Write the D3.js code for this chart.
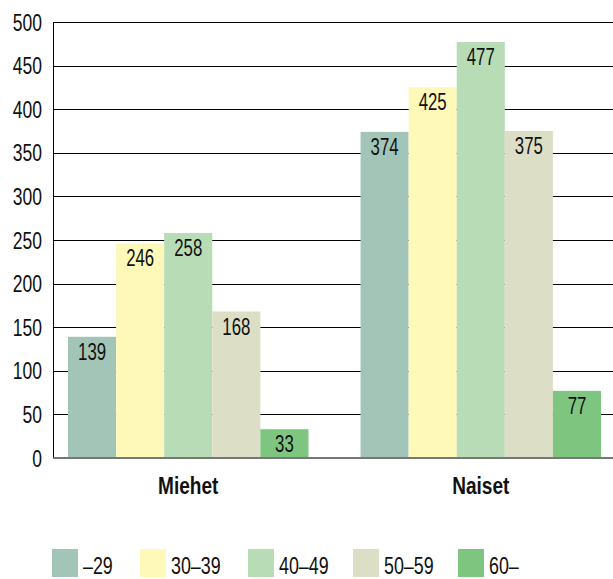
<!DOCTYPE html>
<html>
<head>
<meta charset="utf-8">
<script src="https://cdn.jsdelivr.net/npm/d3@7"></script>
<style>
  html, body { margin: 0; padding: 0; background: #fff; }
  svg text { font-family: "Liberation Sans", Arial, sans-serif; fill: #111; }
</style>
</head>
<body>
<svg id="chart" width="613" height="579"></svg>
<script>
// Groups, age classes and counts per class
const groups = ["Miehet", "Naiset"];
const ageClasses = ["\u201329", "30\u201339", "40\u201349", "50\u201359", "60\u2013"];
const miehet = [139, 246, 258, 168, 33];
const naiset = [374, 425, 477, 375, 77];
const yTicks = [0, 50, 100, 150, 200, 250, 300, 350, 400, 450, 500];
const colors = ["#a3c5b8", "#fef9b8", "#b8ddb6", "#dcdec6", "#7ec680"];

const values = { Miehet: miehet, Naiset: naiset };

const svg = d3.select("#chart");
const plotLeft = 53, plotRight = 613, plotTop = 22, plotBottom = 458;

// Condensed text: horizontal squeeze around the anchor point
const NARROW = 0.73, NARROW_BOLD = 0.81;
function placeText(sel, fx, fy, k) {
  sel.attr("transform", (d, i) => `translate(${fx(d, i)},${fy(d, i)}) scale(${k},1)`);
}

const y = d3.scaleLinear().domain([0, 500]).range([plotBottom, plotTop]);
const x0 = d3.scaleBand().domain(groups).range([68, 601]).paddingInner(0.178).paddingOuter(0);
const x1 = d3.scaleBand().domain(ageClasses).range([0, x0.bandwidth()]).padding(0);
const color = d3.scaleOrdinal().domain(ageClasses).range(colors);

// Horizontal gridlines
svg.append("g")
  .selectAll("line")
  .data(yTicks.filter(d => d > 0))
  .join("line")
  .attr("x1", plotLeft).attr("x2", plotRight)
  .attr("y1", d => Math.round(y(d)) + 0.5).attr("y2", d => Math.round(y(d)) + 0.5)
  .attr("stroke", "#000").attr("stroke-width", 1);

// Y axis labels
svg.append("g")
  .selectAll("text")
  .data(y.ticks(10).filter(t => yTicks.includes(t)))
  .join("text")
  .attr("text-anchor", "end")
  .attr("dy", "0.36em")
  .style("font-size", "24px")
  .text(d => d)
  .call(placeText, () => 42, d => y(d), NARROW);

// Bars
const groupG = svg.append("g")
  .selectAll("g")
  .data(groups)
  .join("g")
  .attr("transform", g => `translate(${x0(g)},0)`);

groupG.selectAll("rect")
  .data(g => values[g].map((v, i) => ({ key: ageClasses[i], v })))
  .join("rect")
  .attr("x", d => x1(d.key))
  .attr("width", x1.bandwidth())
  .attr("y", d => y(d.v))
  .attr("height", d => y(0) - y(d.v))
  .attr("fill", d => color(d.key));

groupG.selectAll("text")
  .data(g => values[g].map((v, i) => ({ key: ageClasses[i], v })))
  .join("text")
  .attr("text-anchor", "middle")
  .style("font-size", "23px")
  .text(d => d.v)
  .call(placeText, d => x1(d.key) + x1.bandwidth() / 2, d => y(d.v) + 23, NARROW);

// Vertical axis line
svg.append("line")
  .attr("x1", plotLeft + 0.5).attr("x2", plotLeft + 0.5)
  .attr("y1", plotTop).attr("y2", plotBottom)
  .attr("stroke", "#000").attr("stroke-width", 1);

// Baseline
svg.append("line")
  .attr("x1", plotLeft).attr("x2", plotRight)
  .attr("y1", y(0)).attr("y2", y(0))
  .attr("stroke", "#777").attr("stroke-width", 2);

// Group labels
svg.append("g")
  .selectAll("text")
  .data(groups)
  .join("text")
  .attr("text-anchor", "middle")
  .style("font-size", "23.5px")
  .style("font-weight", "bold")
  .text(g => g)
  .call(placeText, g => x0(g) + x0.bandwidth() / 2, () => 494, NARROW_BOLD);

// Legend
const legendX = [52, 140, 248, 353, 458];
const legend = svg.append("g")
  .selectAll("g")
  .data(ageClasses)
  .join("g")
  .attr("transform", (d, i) => `translate(${legendX[i]},549)`);
legend.append("rect")
  .attr("width", 26).attr("height", 28)
  .attr("fill", d => color(d));
legend.append("text")
  .style("font-size", "23.5px")
  .text(d => d)
  .call(placeText, () => 31, () => 25, 0.76);
</script>
</body>
</html>
